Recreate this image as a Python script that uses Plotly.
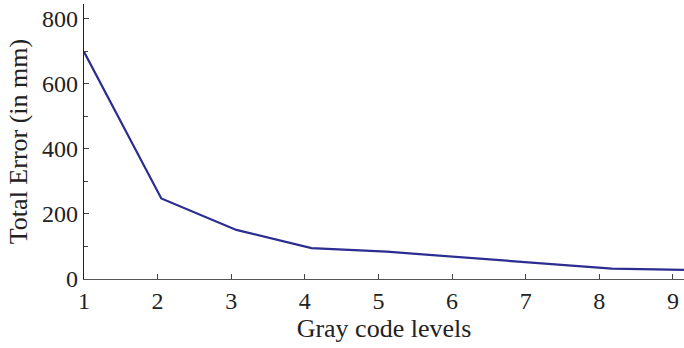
import plotly.graph_objects as go

levels = [1.0, 2.05, 3.07, 4.09, 5.11, 6.13, 7.15, 8.17, 9.19]
total_error = [699, 248, 151, 95, 84, 67, 49, 32, 28]
x_ticks = [1, 2, 3, 4, 5, 6, 7, 8, 9]
y_ticks = [0, 200, 400, 600, 800]

fig = go.Figure()
fig.add_trace(go.Scatter(x=levels, y=total_error, mode="lines",
                         line=dict(color="#2b2d90", width=2.2), cliponaxis=True))

fam = "Liberation Serif, Times New Roman, serif"
tick_font = dict(family=fam, size=24, color="#222")
title_font = dict(family=fam, size=26, color="#222")
fig.update_layout(
    width=684, height=348,
    margin=dict(l=84, r=0, t=4, b=69),
    paper_bgcolor="white", plot_bgcolor="white",
    showlegend=False, font=tick_font,
    xaxis=dict(range=[1, 9.15], tickvals=x_ticks, ticks="inside", ticklen=5,
               tickcolor="#444", showline=True, linecolor="#555", linewidth=1.2,
               showgrid=False, zeroline=False, tickfont=tick_font,
               title=dict(text="Gray code levels", font=title_font, standoff=4)),
    yaxis=dict(range=[0, 846], tickvals=y_ticks, ticks="inside", ticklen=5,
               tickcolor="#444", showline=True, linecolor="#222", linewidth=1.2,
               showgrid=False, zeroline=False, tickfont=tick_font,
               minor=dict(tickvals=[100, 300, 500, 700], ticks="inside", ticklen=4, tickcolor="#444"),
               title=dict(text="Total Error (in mm)", font=title_font, standoff=6)),
)
fig.write_html("out.html")
